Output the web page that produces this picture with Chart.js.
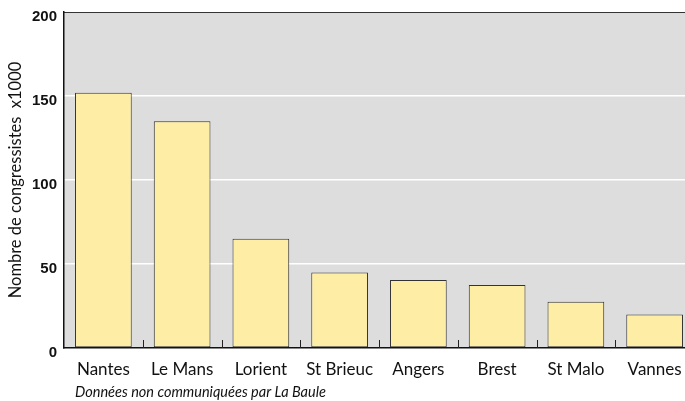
<!DOCTYPE html>
<html>
<head>
<meta charset="utf-8">
<script src="https://cdn.jsdelivr.net/npm/chart.js@4/dist/chart.umd.min.js"></script>
<style>
  html, body { margin: 0; padding: 0; background: #fff; overflow: hidden; }
  #wrap { width: 694px; height: 401px; position: relative; }
</style>
</head>
<body>
<div id="wrap"><canvas id="chart"></canvas></div>
<script>
const categories = ['Nantes', 'Le Mans', 'Lorient', 'St Brieuc', 'Angers', 'Brest', 'St Malo', 'Vannes'];
const congressistes = [152, 135, 65, 45, 40.5, 37.5, 27.5, 20];
const yTicks = [0, 50, 100, 150, 200];
const footnote = 'Données non communiquées par La Baule';

// petits traits entre les catégories + note de bas de page
const extras = {
    id: 'extras',
    afterDraw(chart) {
        const ctx = chart.ctx;
        const x = chart.scales.x;
        const area = chart.chartArea;
        ctx.save();
        ctx.strokeStyle = '#222';
        ctx.lineWidth = 1;
        for (let i = 1; i < categories.length; i++) {
            const px = Math.round((x.getPixelForValue(i - 1) + x.getPixelForValue(i)) / 2) + 0.5;
            ctx.beginPath();
            ctx.moveTo(px, area.bottom);
            ctx.lineTo(px, area.bottom - 8);
            ctx.stroke();
        }
        ctx.fillStyle = '#111';
        ctx.font = 'italic 14.5px Lato';
        ctx.textBaseline = 'middle';
        ctx.fillText(footnote, area.left + 11, 392);
        ctx.restore();
    }
};

const ctx = document.getElementById('chart').getContext('2d');
new Chart(ctx, {
    type: 'bar',
    data: {
        labels: categories,
        datasets: [{
            data: congressistes,
            backgroundColor: '#feeda4',
            borderColor: '#333',
            borderWidth: 1,
            borderSkipped: false,
            barPercentage: 0.72,
            categoryPercentage: 1
        }]
    },
    options: {
        responsive: true,
        maintainAspectRatio: false,
        animation: false,
        layout: { padding: { top: 12, left: 0, right: 0, bottom: 0 } },
        plugins: {
            legend: { display: false },
            tooltip: { enabled: false }
        },
        scales: {
            x: {
                grid: { display: false },
                border: { color: '#111', width: 1.5 },
                ticks: {
                    color: '#111',
                    font: { family: 'Lato', size: 17 },
                    padding: 3,
                    maxRotation: 0,
                    autoSkip: false
                },
                afterFit(scale) { scale.height = 53; }
            },
            y: {
                min: 0,
                max: 200,
                afterBuildTicks(scale) { scale.ticks = yTicks.map(v => ({ value: v })); },
                grid: {
                    color: ctx => (ctx.tick && (ctx.tick.value === 0 || ctx.tick.value === 200)) ? 'rgba(0,0,0,0)' : '#ffffff',
                    lineWidth: 1.5,
                    drawTicks: false
                },
                border: { color: '#111', width: 1.5 },
                ticks: {
                    color: '#111',
                    font: { family: 'Liberation Sans', size: 15, weight: 'bold' },
                    padding: 7,
                    labelOffset: 5
                },
                title: {
                    display: true,
                    text: 'Nombre de congressistes  x1000',
                    color: '#111',
                    font: { family: 'Lato', size: 16.5 },
                    padding: { top: 6, bottom: 0 }
                },
                afterFit(scale) {
                    scale.width = 64;
                    scale.paddingTop = 0;
                    scale.paddingBottom = 0;
                }
            }
        }
    },
    plugins: [extras, {
        id: 'plotBg',
        beforeDraw(chart) {
            const a = chart.chartArea;
            const c = chart.ctx;
            c.save();
            c.fillStyle = '#dddddd';
            c.fillRect(a.left, a.top, a.right - a.left, a.bottom - a.top);
            c.strokeStyle = '#333';
            c.lineWidth = 1;
            c.beginPath();
            c.moveTo(a.left, a.top + 0.5);
            c.lineTo(a.right, a.top + 0.5);
            c.stroke();
            c.restore();
        }
    }]
});
</script>
</body>
</html>
